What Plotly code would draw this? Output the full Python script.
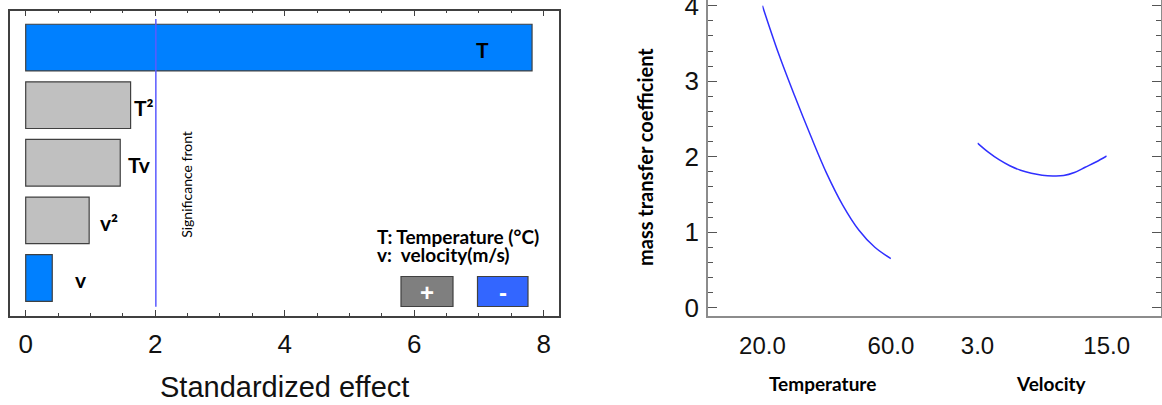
import plotly.graph_objects as go

W, H = 1162, 405

# ---------------- data ----------------
effect_terms = ["v", "v²", "Tv", "T²", "T"]
effect_values = [0.41, 0.98, 1.46, 1.62, 7.82]
effect_signs = ["-", "+", "+", "+", "-"]
significance = 2.01
effect_ticks = [0, 2, 4, 6, 8]

temp_x = [20, 25, 30, 35, 40, 45, 50, 55, 60]
temp_y = [4.00, 3.37, 2.81, 2.28, 1.78, 1.36, 1.03, 0.80, 0.65]
temp_ticks = [20.0, 60.0]

vel_x = [3, 4, 5, 6, 7, 8, 9, 10, 11, 12, 13, 14, 15]
vel_y = [2.18, 2.06, 1.96, 1.88, 1.82, 1.78, 1.755, 1.745, 1.75, 1.79, 1.86, 1.93, 2.01]
vel_ticks = [3.0, 15.0]
mtc_ticks = [0, 1, 2, 3, 4]

BLUE = "#0080ff"
GRAY = "#c0c0c0"
color_map = {"-": BLUE, "+": GRAY}


def px(x):
    return x / W


def py(y):
    return 1 - y / H


TICKFONT = dict(family="Liberation Sans, Arial", size=26, color="#111111")
TICKFONT_X = dict(family="Liberation Sans, Arial", size=24, color="#111111")
BOLD = "Lato, Calibri, sans-serif"
CLEAR = "rgba(0,0,0,0)"

fig = go.Figure()

# ---------------- left: Pareto chart ----------------
fig.add_trace(go.Bar(
    x=effect_values, y=effect_terms, orientation="h",
    marker=dict(color=[color_map[s] for s in effect_signs],
                line=dict(color="#404040", width=1.2)),
    width=0.81, xaxis="x", yaxis="y", showlegend=False, hoverinfo="x+y"))

label_shift = {"T": None, "T²": 1, "Tv": 6, "v²": 9, "v": 21}
for term, val in zip(effect_terms, effect_values):
    if label_shift[term] is None:
        fig.add_annotation(x=val - 0.77, y=term, xref="x", yref="y", text="<b>T</b>",
                           showarrow=False, xanchor="center", yanchor="middle", yshift=-2,
                           font=dict(family=BOLD, size=21, color="black"))
    else:
        fig.add_annotation(x=val, y=term, xref="x", yref="y", text="<b>%s</b>" % term,
                           showarrow=False, xanchor="left", yanchor="middle",
                           xshift=label_shift[term], yshift=-2,
                           font=dict(family=BOLD, size=21, color="black"))

fig.add_shape(type="line", xref="x", yref="y domain", x0=significance, x1=significance,
              y0=0.03, y1=0.973, line=dict(color="#5a5aff", width=1.5))
fig.add_annotation(x=significance, y=py(184), xref="x", yref="paper", text="Significance front",
                   showarrow=False, textangle=-90, xanchor="center", yanchor="middle", xshift=30,
                   font=dict(family="Lato, Calibri, sans-serif", size=14, color="black"))

fig.add_annotation(x=px(375), y=py(236), xref="paper", yref="paper",
                   text="<b>T: Temperature (°C)</b>", showarrow=False, xanchor="left",
                   yanchor="middle", font=dict(family=BOLD, size=19, color="black"))
fig.add_annotation(x=px(375), y=py(254), xref="paper", yref="paper",
                   text="<b>v:  velocity(m/s)</b>", showarrow=False, xanchor="left",
                   yanchor="middle", font=dict(family=BOLD, size=19, color="black"))

for (x0, x1, fill, sym) in [(401, 453, "#7f7f7f", "+"), (477.5, 528, "#3366ff", "-")]:
    fig.add_shape(type="rect", xref="paper", yref="paper", x0=px(x0), x1=px(x1),
                  y0=py(306.5), y1=py(276.5), fillcolor=fill,
                  line=dict(color="#404040", width=1.2))
    fig.add_annotation(x=px((x0 + x1) / 2), y=py(292), xref="paper", yref="paper",
                       text="<b>%s</b>" % sym, showarrow=False, xanchor="center", yanchor="middle",
                       font=dict(family="Liberation Sans, Arial", size=24, color="white"))

fig.add_annotation(x=px(284.5), y=py(387), xref="paper", yref="paper",
                   text="Standardized effect", showarrow=False, xanchor="center", yanchor="middle",
                   font=dict(family="Liberation Sans, Arial", size=29, color="#111111"))

# ---------------- right: main effects ----------------
fig.add_trace(go.Scatter(x=[None], y=[None], xaxis="x3", yaxis="y2", showlegend=False,
                         hoverinfo="skip"))
fig.add_trace(go.Scatter(x=temp_x, y=temp_y, mode="lines", xaxis="x4", yaxis="y2",
                         line=dict(color="#3030ff", width=1.5, shape="spline"),
                         showlegend=False))
fig.add_trace(go.Scatter(x=vel_x, y=vel_y, mode="lines", xaxis="x5", yaxis="y2",
                         line=dict(color="#3030ff", width=1.5, shape="spline"),
                         showlegend=False))

fig.add_annotation(x=px(822), y=py(383), xref="paper", yref="paper", text="<b>Temperature</b>",
                   showarrow=False, xanchor="center", yanchor="middle",
                   font=dict(family=BOLD, size=19, color="black"))
fig.add_annotation(x=px(1051.5), y=py(383), xref="paper", yref="paper", text="<b>Velocity</b>",
                   showarrow=False, xanchor="center", yanchor="middle",
                   font=dict(family=BOLD, size=19, color="black"))
fig.add_annotation(x=px(645), y=py(157), xref="paper", yref="paper",
                   text="<b>mass transfer coefficient</b>", showarrow=False, textangle=-90,
                   xanchor="center", yanchor="middle",
                   font=dict(family=BOLD, size=20, color="black"))

# ---------------- axes ----------------
fig.update_layout(
    width=W, height=H, autosize=False,
    margin=dict(l=0, r=0, t=0, b=0, autoexpand=False),
    paper_bgcolor="white", plot_bgcolor=CLEAR,
    xaxis=dict(domain=[px(10), px(559)], range=[-0.2425, 8.236], anchor="y",
               tickvals=effect_ticks, ticks="inside", ticklen=6, tickcolor="#404040",
               minor=dict(dtick=0.5, ticks="inside", ticklen=3, tickcolor="#404040"),
               showline=True, linecolor="#404040", linewidth=1.5, mirror="ticks",
               showgrid=False, zeroline=False, tickfont=TICKFONT, ticklabelstandoff=4),
    yaxis=dict(domain=[py(316), py(10.7)], range=[-0.66, 4.64], anchor="x", type="category",
               categoryorder="array", categoryarray=effect_terms,
               showticklabels=False, ticks="", showline=True, linecolor="#404040",
               linewidth=1.5, mirror=True, showgrid=False, zeroline=False),
    xaxis3=dict(domain=[px(708), px(1161)], range=[0, 1], anchor="y2",
                showticklabels=False, ticks="", showline=True, linecolor="#8c8c8c",
                linewidth=1.8, showgrid=False, zeroline=False),
    yaxis2=dict(domain=[py(316.3), 1.0], range=[-0.114, 4.0755], anchor="x3",
                tickvals=mtc_ticks, ticks="inside", ticklen=9, tickcolor="#555555",
                minor=dict(dtick=0.2, ticks="inside", ticklen=5, tickcolor="#555555"),
                showline=True, linecolor="#8c8c8c", linewidth=1.8, mirror="ticks",
                showgrid=False, zeroline=False, tickfont=TICKFONT, ticklabelstandoff=2,
                ticklabeloverflow="allow"),
    xaxis4=dict(domain=[px(762.4), px(890.9)], range=[20, 60], anchor="y2",
                tickvals=temp_ticks, tickformat=".1f", ticks="", showline=False,
                showgrid=False, zeroline=False, tickfont=TICKFONT_X, ticklabelstandoff=13),
    xaxis5=dict(domain=[px(977.5), px(1106.7)], range=[3, 15], anchor="y2",
                tickvals=vel_ticks, tickformat=".1f", ticks="", showline=False,
                showgrid=False, zeroline=False, tickfont=TICKFONT_X, ticklabelstandoff=13),
)

fig.write_html("out.html", config={"displayModeBar": False},
               post_script="document.body.style.margin='0';")
